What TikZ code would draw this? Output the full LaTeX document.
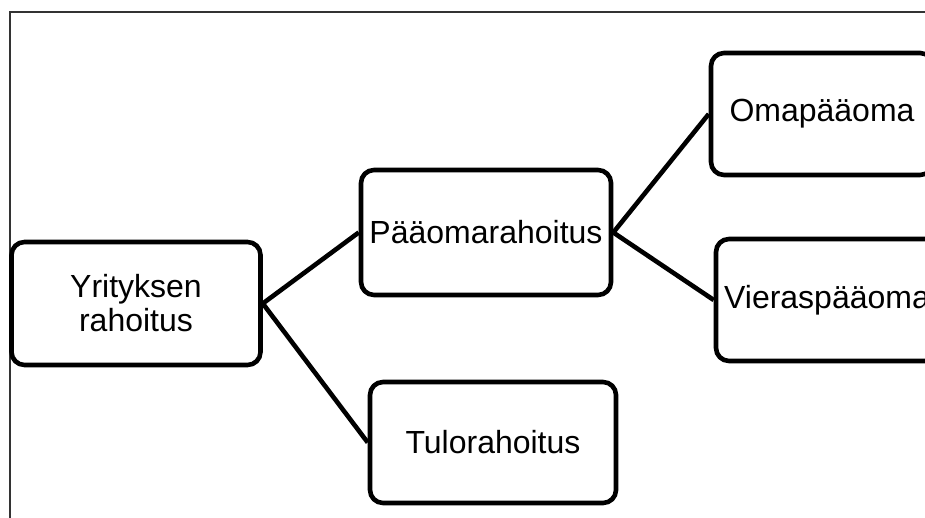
\documentclass[tikz,border=0pt]{standalone}
\usepackage{fontspec}
\setmainfont{Liberation Sans}
\begin{document}
\begin{tikzpicture}[x=1pt,y=-1pt,
  box/.style={draw=black, line width=4.6pt, rounded corners=13pt, fill=white,
    inner sep=0pt, align=center, font=\fontsize{32}{34}\selectfont},
  link/.style={draw=black, line width=4.6pt}]
\useasboundingbox (0,0) rectangle (925,518);
\clip (0,0) rectangle (925,518);
\fill[white] (0,0) rectangle (925,518);
\draw[line width=2pt, draw=black!80] (10,530) -- (10,12) -- (940,12);
\node[box, minimum width=249pt, minimum height=123pt] (yr) at (136,303.5) {Yrityksen\\rahoitus};
\node[box, minimum width=250pt, minimum height=125pt] (pa) at (486,232.5) {Pääomarahoitus};
\node[box, minimum width=246pt, minimum height=121pt] (tu) at (493,442.5) {Tulorahoitus};
\node[box, minimum width=222pt, minimum height=122pt] (om) at (822,114) {Omapääoma};
\node[box, minimum width=222pt, minimum height=122pt] (vi) at (827,300) {Vieraspääoma};
\draw[link] (yr.east) -- (pa.west);
\draw[link] (yr.east) -- (tu.west);
\draw[link] (pa.east) -- (om.west);
\draw[link] (pa.east) -- (vi.west);
\end{tikzpicture}
\end{document}
